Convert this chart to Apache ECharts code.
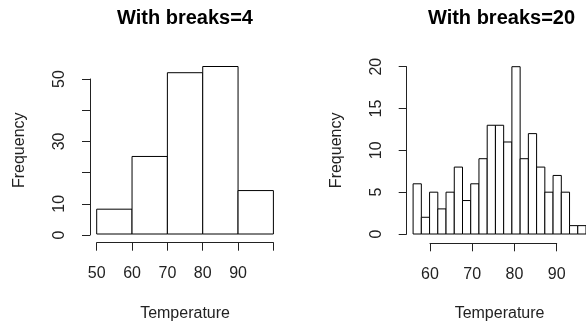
<!DOCTYPE html>
<html><head><meta charset="utf-8">
<script src="https://cdn.jsdelivr.net/npm/echarts@6/dist/echarts.min.js"></script>
<style>html,body{margin:0;padding:0;background:#fff}#c{width:586px;height:327px}</style>
</head><body><div id="c"></div>
<script>
// Left histogram (breaks=4)
const leftBreaks = [50, 60, 70, 80, 90, 100];
const leftCounts = [8, 25, 52, 54, 14];
const leftXTicks = [50, 60, 70, 80, 90, 100];
const leftXLabels = [50, 60, 70, 80, 90];
const leftYTicks = [0, 10, 20, 30, 40, 50];
const leftYLabels = [0, 10, 30, 50];
// Right histogram (breaks=20)
const rightBreaks = [56,58,60,62,64,66,68,70,72,74,76,78,80,82,84,86,88,90,92,94,96,98];
const rightCounts = [6,2,5,3,5,8,4,6,9,13,13,11,20,9,12,8,5,7,5,1,1];
const rightXTicks = [60, 70, 80, 90];
const rightYTicks = [0, 5, 10, 15, 20];

const titles = ['With breaks=4', 'With breaks=20'];
const xName = 'Temperature';
const yName = 'Frequency';

function binData(breaks, counts) {
  return counts.map((c, i) => [breaks[i], breaks[i + 1], c]);
}
function renderBar(params, api) {
  const p1 = api.coord([api.value(0), api.value(2)]);
  const p2 = api.coord([api.value(1), 0]);
  return {
    type: 'rect',
    shape: { x: p1[0], y: p1[1], width: p2[0] - p1[0], height: p2[1] - p1[1] },
    style: { fill: '#fff', stroke: '#000', lineWidth: 1 }
  };
}
const FONT = 'Liberation Sans, Arial, sans-serif';
const axisColor = '#222';
const hidden = { show: false };
function hiddenAxis(extra) {
  return Object.assign({ type: 'value', axisLine: hidden, axisTick: hidden, axisLabel: hidden, splitLine: hidden }, extra);
}
const lblStyle = { color: '#222', fontSize: 16, fontFamily: FONT };
const nameStyle = { color: '#222', fontSize: 16, fontFamily: FONT };

const chart = echarts.init(document.getElementById('c'), null, { renderer: 'canvas' });
chart.setOption({
  animation: false,
  backgroundColor: '#fff',
  title: [
    { text: titles[0], left: 185, top: 8, textAlign: 'center', padding: 0,
      textStyle: { fontSize: 20, fontWeight: 'bold', fontFamily: FONT, color: '#000' } },
    { text: titles[1], left: 501.5, top: 8, textAlign: 'center', padding: 0,
      textStyle: { fontSize: 20, fontWeight: 'bold', fontFamily: FONT, color: '#000' } }
  ],
  grid: [
    { left: 96.7, width: 176.7, top: 66.5, height: 168.5 },   // 0 left bars
    { left: 96.7, width: 176.7, top: 200, height: 42.7 },     // 1 left x axis
    { left: 90, width: 10, top: 79, height: 156 },            // 2 left y axis
    { left: 413.1, width: 177.3, top: 66.7, height: 168.3 },  // 3 right bars
    { left: 430, width: 126.7, top: 200, height: 43.3 }       // 4 right x axis
  ],
  xAxis: [
    hiddenAxis({ gridIndex: 0, min: leftBreaks[0], max: leftBreaks[leftBreaks.length - 1],
      name: xName, nameLocation: 'middle', nameGap: 72, nameTextStyle: nameStyle }),
    { type: 'value', gridIndex: 1, min: leftXTicks[0], max: leftXTicks[leftXTicks.length - 1], interval: 10,
      axisLine: { lineStyle: { color: axisColor, width: 1 } },
      axisTick: { length: 8, lineStyle: { color: axisColor, width: 1 } },
      axisLabel: Object.assign({ margin: 23, showMaxLabel: true, showMinLabel: true,
        formatter: v => leftXLabels.includes(v) ? String(v) : '' }, lblStyle),
      splitLine: hidden },
    hiddenAxis({ gridIndex: 2, min: 0, max: 1 }),
    hiddenAxis({ gridIndex: 3, min: rightBreaks[0], max: rightBreaks[rightBreaks.length - 1],
      name: xName, nameLocation: 'middle', nameGap: 72, nameTextStyle: nameStyle }),
    { type: 'value', gridIndex: 4, min: rightXTicks[0], max: rightXTicks[rightXTicks.length - 1], interval: 10,
      axisLine: { lineStyle: { color: axisColor, width: 1 } },
      axisTick: { length: 8, lineStyle: { color: axisColor, width: 1 } },
      axisLabel: Object.assign({ margin: 23, showMaxLabel: true, showMinLabel: true }, lblStyle),
      splitLine: hidden }
  ],
  yAxis: [
    hiddenAxis({ gridIndex: 0, min: 0, max: Math.max(...leftCounts),
      name: yName, nameLocation: 'middle', nameGap: 69, nameTextStyle: nameStyle }),
    hiddenAxis({ gridIndex: 1, min: 0, max: 1 }),
    { type: 'value', gridIndex: 2, min: leftYTicks[0], max: leftYTicks[leftYTicks.length - 1], interval: 10,
      axisLine: { show: true, lineStyle: { color: axisColor, width: 1 } },
      axisTick: { show: true, length: 8, lineStyle: { color: axisColor, width: 1 } },
      axisLabel: Object.assign({ rotate: 90, margin: 22, showMaxLabel: true, showMinLabel: true,
        formatter: v => leftYLabels.includes(v) ? String(v) : '' }, lblStyle),
      splitLine: hidden },
    { type: 'value', gridIndex: 3, min: rightYTicks[0], max: rightYTicks[rightYTicks.length - 1], interval: 5,
      offset: 6.4,
      axisLine: { show: true, lineStyle: { color: axisColor, width: 1 } },
      axisTick: { show: true, length: 8, lineStyle: { color: axisColor, width: 1 } },
      axisLabel: Object.assign({ rotate: 90, margin: 22, showMaxLabel: true, showMinLabel: true }, lblStyle),
      name: yName, nameLocation: 'middle', nameGap: 62, nameTextStyle: nameStyle,
      splitLine: hidden },
    hiddenAxis({ gridIndex: 4, min: 0, max: 1 })
  ],
  series: [
    { type: 'custom', xAxisIndex: 0, yAxisIndex: 0, renderItem: renderBar,
      encode: { x: [0, 1], y: 2 }, data: binData(leftBreaks, leftCounts) },
    { type: 'custom', xAxisIndex: 3, yAxisIndex: 3, renderItem: renderBar,
      encode: { x: [0, 1], y: 2 }, data: binData(rightBreaks, rightCounts) }
  ]
});
</script></body></html>
